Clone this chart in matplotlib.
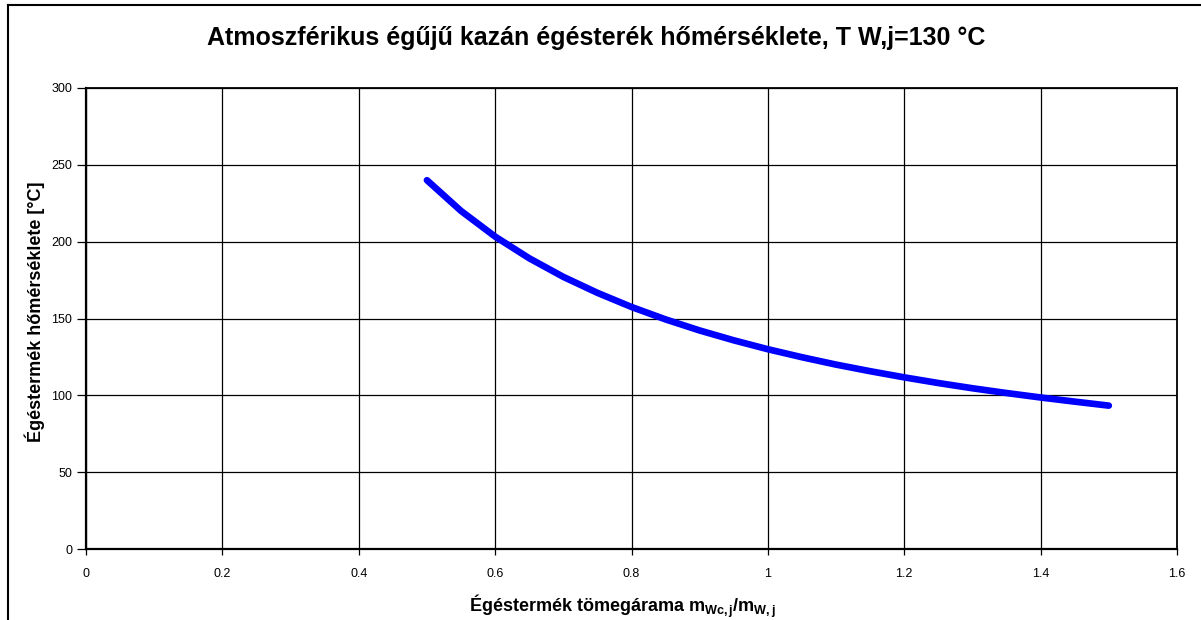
import matplotlib
matplotlib.use("Agg")
import matplotlib.pyplot as plt
from matplotlib.lines import Line2D

plt.rcParams['font.family'] = ['Liberation Sans', 'DejaVu Sans']
plt.rcParams['mathtext.fontset'] = 'custom'
plt.rcParams['mathtext.rm'] = 'Liberation Sans'
plt.rcParams['mathtext.bf'] = 'Liberation Sans:bold'
plt.rcParams['mathtext.it'] = 'Liberation Sans:italic'

title = "Atmoszférikus égűjű kazán égésterék hőmérséklete, T W,j=130 °C"
xlabel = "Égéstermék tömegárama m$_{\\mathbf{Wc,j}}$/m$_{\\mathbf{W,j}}$"
ylabel = "Égéstermék hőmérséklete [°C]"

mass_ratio = [0.5, 0.55, 0.6, 0.65, 0.7, 0.75, 0.8, 0.85, 0.9, 0.95, 1.0,
              1.05, 1.1, 1.15, 1.2, 1.25, 1.3, 1.35, 1.4, 1.45, 1.5]
temperature = [240.0, 220.0, 203.3, 189.2, 177.1, 166.7, 157.5, 149.4, 142.2,
               135.8, 130.0, 124.8, 120.0, 115.7, 111.7, 108.0, 104.6, 101.5,
               98.6, 95.9, 93.3]

xticks = [0, 0.2, 0.4, 0.6, 0.8, 1.0, 1.2, 1.4, 1.6]
xtick_labels = ["0", "0.2", "0.4", "0.6", "0.8", "1", "1.2", "1.4", "1.6"]
yticks = [0, 50, 100, 150, 200, 250, 300]

W, H = 1201, 620
fig = plt.figure(figsize=(W / 100, H / 100), dpi=100)
ax = fig.add_axes([86 / W, 1 - 549 / H, (1177 - 86) / W, (549 - 88) / H])

ax.plot(mass_ratio, temperature, color='#0000ff', linewidth=4.8,
        solid_capstyle='round', solid_joinstyle='round', zorder=3)

ax.set_xlim(0, 1.6)
ax.set_ylim(0, 300)
ax.set_xticks(xticks)
ax.set_xticklabels(xtick_labels)
ax.set_yticks(yticks)
ax.grid(True, color='black', linewidth=0.9)
ax.tick_params(axis='x', direction='out', length=4, width=0.9, labelsize=9,
               colors='black', pad=9.5)
ax.tick_params(axis='y', direction='out', length=6.5, width=0.9, labelsize=9,
               colors='black', pad=3.5)
for s in ax.spines.values():
    s.set_linewidth(1.3)
    s.set_color('black')
ax.spines['left'].set_linewidth(1.6)
ax.spines['bottom'].set_linewidth(1.6)

fig.text(623 / W, 1 - 606 / H, xlabel, ha='center', va='center', fontsize=13,
         fontweight='bold')
fig.text(35 / W, 1 - 312 / H, ylabel, ha='center', va='center', fontsize=13,
         fontweight='bold', rotation=90)

fig.text(596.5 / W, 1 - 38 / H, title, ha='center', va='center', fontsize=18,
         fontweight='bold')

# chart frame (left and top edges visible)
fig.add_artist(Line2D([7.5 / W, 7.5 / W], [0, 1 - 5 / H], transform=fig.transFigure,
                      color='black', linewidth=1.5))
fig.add_artist(Line2D([7.5 / W, 1], [1 - 5 / H, 1 - 5 / H], transform=fig.transFigure,
                      color='black', linewidth=1.5))

fig.savefig("out.png", dpi=100)
